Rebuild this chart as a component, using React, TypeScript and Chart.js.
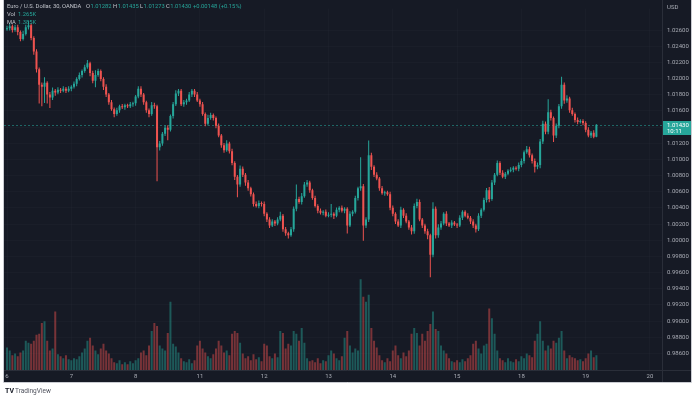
import React, { useEffect, useRef } from "react";
import { Chart, registerables } from "chart.js";

Chart.register(...registerables);

// ---- data (EUR/USD, OANDA) ----
const dayLabels = ["6", "7", "8", "11", "12", "13", "14", "15", "18", "19", "20"];
const priceTicks = [
  0.986, 0.988, 0.99, 0.992, 0.994, 0.996, 0.998, 1.0, 1.002, 1.004, 1.006, 1.008,
  1.01, 1.012, 1.014, 1.016, 1.018, 1.02, 1.022, 1.024, 1.026,
];
const candlesPerDay = 24;
const firstOpen = 1.02612;

const closes = [
  // 6
  1.02624, 1.02648, 1.026, 1.02636, 1.02576, 1.02491, 1.02552, 1.02636, 1.02661, 1.02503, 1.02334, 1.02117,
  1.01923, 1.01899, 1.01948, 1.01803, 1.01766, 1.01851, 1.01827, 1.01863, 1.01851, 1.01875, 1.01851, 1.01875,
  // 7
  1.01899, 1.01935, 1.01996, 1.02044, 1.02093, 1.02141, 1.02189, 1.02068, 1.01972, 1.02044, 1.02093, 1.01996,
  1.01899, 1.01803, 1.01706, 1.01621, 1.01561, 1.01609, 1.01657, 1.01645, 1.0167, 1.01657, 1.01682, 1.01694,
  // 8
  1.01778, 1.01875, 1.01803, 1.01706, 1.01609, 1.01561, 1.0167, 1.01657, 1.0115, 1.01198, 1.01319, 1.01392,
  1.01367, 1.01537, 1.01682, 1.01815, 1.01851, 1.01682, 1.01706, 1.0173, 1.01803, 1.01851, 1.01803, 1.0173,
  // 11
  1.01682, 1.01561, 1.0144, 1.01512, 1.01549, 1.01512, 1.01416, 1.01295, 1.01174, 1.01114, 1.01198, 1.01102,
  1.00957, 1.00787, 1.00691, 1.00884, 1.00812, 1.00715, 1.00642, 1.0057, 1.00449, 1.00425, 1.00461, 1.00449,
  // 12
  1.00328, 1.00256, 1.00183, 1.00231, 1.00207, 1.00256, 1.00304, 1.00135, 1.00086, 1.00062, 1.00135, 1.00389,
  1.00509, 1.00473, 1.00546, 1.00691, 1.00715, 1.00618, 1.00522, 1.00425, 1.00364, 1.0034, 1.00352, 1.00304,
  // 13
  1.00316, 1.00328, 1.00304, 1.00376, 1.00401, 1.00364, 1.00389, 1.00183, 1.00328, 1.00352, 1.00522, 1.00642,
  1.00667, 1.00183, 1.00256, 1.01053, 1.00908, 1.00812, 1.00763, 1.00642, 1.00582, 1.00594, 1.0057, 1.00401,
  // 14
  1.00328, 1.00231, 1.00183, 1.00376, 1.00304, 1.00231, 1.00159, 1.00111, 1.00425, 1.00473, 1.00256, 1.00183,
  1.00111, 1.00062, 0.99821, 1.00389, 1.00062, 1.00159, 1.00207, 1.00328, 1.00207, 1.00183, 1.00219, 1.00195,
  // 15
  1.00183, 1.0028, 1.00352, 1.00304, 1.0028, 1.00231, 1.00183, 1.00135, 1.00304, 1.00376, 1.00497, 1.00618,
  1.00509, 1.00715, 1.00812, 1.00957, 1.00836, 1.00787, 1.00824, 1.0086, 1.00872, 1.00896, 1.00884, 1.00932,
  // 18
  1.00981, 1.0109, 1.01126, 1.01053, 1.00981, 1.00908, 1.00932, 1.01222, 1.0144, 1.01343, 1.01585, 1.01512,
  1.01295, 1.01416, 1.01657, 1.01923, 1.0173, 1.01754, 1.01609, 1.01561, 1.01488, 1.01464, 1.01476, 1.01452,
  // 19
  1.01367, 1.01295, 1.01331, 1.01282, 1.0143,
];

// wick lengths in pips
const upperWicks = [
  3, 4, 2, 3, 3, 2, 4, 3, 5, 2, 2, 3, 2, 3, 7, 2, 3, 4, 2, 3, 2, 3, 2, 3,
  2, 3, 2, 3, 2, 3, 4, 2, 3, 6, 3, 2, 2, 3, 2, 3, 2, 3, 2, 3, 2, 2, 3, 2,
  2, 3, 3, 2, 2, 2, 4, 3, 2, 3, 2, 3, 3, 2, 3, 4, 2, 2, 3, 2, 3, 2, 2, 3,
  2, 3, 2, 4, 3, 2, 2, 3, 2, 3, 4, 2, 3, 2, 2, 4, 3, 2, 3, 2, 2, 3, 3, 2,
  3, 2, 3, 3, 2, 3, 5, 2, 3, 2, 3, 3, 18, 3, 4, 3, 3, 2, 2, 3, 2, 3, 2, 3,
  3, 12, 2, 3, 2, 3, 2, 2, 3, 2, 3, 2, 36, 3, 3, 18, 3, 2, 3, 2, 3, 2, 2, 3,
  3, 2, 3, 4, 2, 3, 2, 3, 3, 4, 3, 2, 2, 3, 2, 8, 3, 4, 3, 2, 3, 2, 3, 2,
  2, 3, 2, 2, 3, 2, 3, 2, 3, 2, 3, 3, 4, 3, 2, 3, 2, 3, 2, 2, 3, 2, 2, 3,
  3, 2, 4, 3, 2, 3, 3, 3, 4, 3, 16, 3, 2, 3, 3, 10, 3, 4, 2, 3, 2, 3, 2, 2,
  2, 3, 2, 3, 0.5,
];
const lowerWicks = [
  2, 3, 3, 2, 4, 3, 2, 2, 3, 3, 4, 4, 23, 24, 20, 11, 13, 3, 4, 2, 3, 2, 3, 2,
  3, 2, 3, 2, 3, 2, 2, 4, 3, 8, 2, 3, 4, 3, 3, 2, 4, 2, 3, 2, 3, 2, 2, 3,
  3, 2, 3, 3, 3, 4, 2, 3, 42, 4, 3, 3, 13, 2, 3, 2, 3, 2, 3, 3, 2, 3, 3, 2,
  3, 2, 3, 2, 2, 3, 3, 2, 3, 3, 2, 3, 3, 4, 16, 3, 3, 4, 3, 3, 3, 2, 3, 3,
  3, 3, 3, 2, 3, 2, 2, 3, 3, 4, 2, 3, 3, 2, 3, 2, 3, 3, 2, 2, 3, 2, 3, 2,
  2, 3, 4, 2, 3, 2, 3, 10, 2, 3, 2, 3, 3, 19, 3, 3, 4, 3, 2, 3, 2, 3, 2, 3,
  3, 3, 2, 3, 3, 2, 3, 4, 3, 3, 2, 3, 3, 5, 28, 3, 4, 3, 3, 2, 3, 2, 3, 2,
  3, 2, 3, 2, 2, 3, 3, 4, 2, 3, 2, 3, 4, 2, 3, 2, 3, 2, 3, 2, 2, 3, 2, 3,
  3, 3, 2, 3, 3, 7, 3, 4, 3, 3, 3, 3, 8, 3, 3, 3, 4, 3, 3, 2, 3, 3, 2, 3,
  3, 2, 3, 2, 0.9,
];

const volumes = [
  23, 20, 15, 17, 14, 18, 20, 30, 28, 27, 30, 36, 37, 48, 50, 30, 20, 22, 60, 16, 14, 12, 15, 11,
  10, 12, 11, 14, 18, 22, 30, 33, 25, 20, 16, 22, 27, 20, 17, 12, 8, 7, 10, 6, 8, 6, 9, 7,
  10, 12, 18, 20, 15, 25, 40, 48, 45, 25, 22, 20, 38, 70, 27, 24, 18, 12, 9, 8, 11, 7, 10, 25,
  30, 22, 18, 14, 12, 16, 22, 30, 25, 18, 20, 15, 37, 40, 38, 28, 17, 12, 14, 10, 16, 11, 13, 9,
  27, 25, 14, 12, 17, 13, 40, 38, 22, 27, 25, 40, 37, 30, 43, 28, 12, 9, 10, 8, 12, 7, 10, 9,
  15, 20, 17, 12, 10, 14, 33, 40, 25, 18, 22, 20, 93, 75, 70, 77, 43, 30, 23, 15, 10, 8, 12, 9,
  20, 25, 15, 12, 18, 14, 20, 37, 43, 38, 25, 37, 30, 40, 47, 60, 42, 40, 25, 20, 17, 12, 9, 8,
  10, 8, 11, 9, 12, 15, 27, 30, 22, 17, 25, 27, 63, 53, 37, 20, 12, 10, 8, 12, 9, 8, 11, 9,
  14, 12, 17, 15, 13, 30, 37, 50, 30, 20, 25, 22, 30, 28, 33, 40, 20, 12, 15, 13, 12, 10, 11, 9,
  12, 17, 20, 13, 15,
];

const titleText = "Euro / U.S. Dollar, 30, OANDA";
const ohlcLabels = ["O", "H", "L", "C"];
const ohlcValues = ["1.01282", "1.01435", "1.01273", "1.01430"];
const changeText = "+0.00148 (+0.15%)";
const volLegend = ["Vol", "1.265K"];
const maLegend = ["MA", "1.385K"];
const lastPrice = 1.0143;
const countdown = "10:11";

// ---- styles ----
const PIP = 0.0001;
const UP = "#26a69a";
const DOWN = "#ef5350";
const UP_VOL = "rgba(38,166,154,0.45)";
const DOWN_VOL = "rgba(239,83,80,0.45)";
const BG = "#161a25";
const GRID = "rgba(42,46,57,0.22)";
const TEXT = "#a9acb5";
const HEAD = "#c2c5cc";
const FONT = "Roboto, 'Noto Sans', sans-serif";

export default function App() {
  const ref = useRef<HTMLCanvasElement | null>(null);

  useEffect(() => {
    const canvas = ref.current;
    if (!canvas) return;

    const opens = closes.map((c, i) => (i === 0 ? firstOpen : closes[i - 1]));
    const highs = closes.map((c, i) => Math.max(opens[i], c) + upperWicks[i] * PIP);
    const lows = closes.map((c, i) => Math.min(opens[i], c) - lowerWicks[i] * PIP);
    const xs = closes.map((_, i) => i / candlesPerDay);
    const isUp = closes.map((c, i) => c >= opens[i]);
    const colors = isUp.map((u) => (u ? UP : DOWN));
    const volColors = isUp.map((u) => (u ? UP_VOL : DOWN_VOL));

    const framePlugin = {
      id: "frame",
      beforeDraw(chart: any) {
        const ctx = chart.ctx;
        ctx.save();
        ctx.fillStyle = "#ffffff";
        ctx.fillRect(0, 0, chart.width, chart.height);
        ctx.fillStyle = BG;
        ctx.fillRect(4, 0, 687, 382);
        ctx.restore();
      },
      beforeDatasetsDraw(chart: any) {
        const ctx = chart.ctx;
        const y = Math.round(chart.scales.y.getPixelForValue(lastPrice)) + 0.5;
        ctx.save();
        ctx.strokeStyle = "rgba(38,166,154,0.55)";
        ctx.lineWidth = 1;
        ctx.setLineDash([2, 2]);
        ctx.beginPath();
        ctx.moveTo(chart.chartArea.left, y);
        ctx.lineTo(chart.chartArea.right, y);
        ctx.stroke();
        ctx.restore();
      },
      afterDraw(chart: any) {
        const ctx = chart.ctx;
        const area = chart.chartArea;
        ctx.save();
        // separators
        ctx.strokeStyle = "#2a2e39";
        ctx.lineWidth = 1;
        ctx.beginPath();
        ctx.moveTo(area.right + 0.5, 0);
        ctx.lineTo(area.right + 0.5, 382);
        ctx.moveTo(4, area.bottom + 0.5);
        ctx.lineTo(691, area.bottom + 0.5);
        ctx.stroke();
        // outer frame
        ctx.strokeStyle = "#c9cbd1";
        ctx.beginPath();
        ctx.moveTo(3.5, 0);
        ctx.lineTo(3.5, 382.5);
        ctx.lineTo(691.5, 382.5);
        ctx.lineTo(691.5, 0);
        ctx.stroke();

        // price label box
        const py = chart.scales.y.getPixelForValue(lastPrice);
        ctx.fillStyle = UP;
        ctx.fillRect(area.right + 1, Math.round(py) - 4, 28, 14);
        ctx.fillStyle = "#ffffff";
        ctx.font = `6px ${FONT}`;
        ctx.textBaseline = "middle";
        ctx.textAlign = "left";
        ctx.fillText(lastPrice.toFixed(5), area.right + 5, Math.round(py) + 0.5);
        ctx.fillText(countdown, area.right + 5, Math.round(py) + 6.5);

        // USD
        ctx.fillStyle = TEXT;
        ctx.fillText("USD", area.right + 5, 7);

        // header
        ctx.font = `5.8px ${FONT}`;
        ctx.fillStyle = HEAD;
        ctx.fillText(titleText, 7, 7);
        const starts = [86, 113, 140, 166];
        ohlcLabels.forEach((lab, i) => {
          ctx.fillStyle = HEAD;
          ctx.fillText(lab, starts[i], 7);
          const w = ctx.measureText(lab).width;
          ctx.fillStyle = UP;
          ctx.fillText(ohlcValues[i], starts[i] + w + 0.5, 7);
        });
        ctx.fillStyle = UP;
        ctx.fillText(changeText, 193, 7);
        ctx.fillStyle = HEAD;
        ctx.fillText(volLegend[0], 7, 15);
        ctx.fillStyle = UP;
        ctx.fillText(volLegend[1], 18, 15);
        ctx.fillStyle = HEAD;
        ctx.fillText(maLegend[0], 7, 23);
        ctx.fillStyle = UP;
        ctx.fillText(maLegend[1], 18, 23);

        // logo
        ctx.fillStyle = "#131722";
        ctx.font = `bold 7px ${FONT}`;
        ctx.fillText("TV", 5, 391);
        ctx.fillStyle = "#50535e";
        ctx.font = `6.5px ${FONT}`;
        ctx.fillText("TradingView", 15, 391);
        ctx.restore();
      },
    };

    const chart = new Chart(canvas, {
      type: "bar",
      data: {
        datasets: [
          {
            label: "body",
            data: xs.map((x, i) => ({ x, y: [opens[i], closes[i]] })) as any,
            backgroundColor: colors,
            barThickness: 2,
            minBarLength: 1,
            grouped: false,
            inflateAmount: 0,
            yAxisID: "y",
            order: 1,
          } as any,
          {
            label: "wick",
            data: xs.map((x, i) => ({ x, y: [lows[i], highs[i]] })) as any,
            backgroundColor: colors,
            barThickness: 1,
            grouped: false,
            inflateAmount: 0,
            yAxisID: "y",
            order: 2,
          } as any,
          {
            label: "volume",
            data: xs.map((x, i) => ({ x, y: volumes[i] })) as any,
            backgroundColor: volColors,
            barThickness: 2,
            grouped: false,
            inflateAmount: 0,
            yAxisID: "yv",
            order: 3,
          } as any,
        ],
      },
      options: {
        animation: false,
        responsive: false,
        devicePixelRatio: 1,
        layout: { padding: { left: 4, right: 5, top: 0, bottom: 16 } },
        plugins: { legend: { display: false }, tooltip: { enabled: false } },
        scales: {
          x: {
            type: "linear",
            min: -0.047,
            max: 10.187,
            offset: false,
            grid: { color: GRID, drawTicks: false, offset: false },
            border: { display: false },
            ticks: {
              color: TEXT,
              font: { size: 6, family: FONT },
              padding: 3,
              maxRotation: 0,
              autoSkip: false,
              callback: (v: any) => dayLabels[Math.round(Number(v))] ?? "",
            },
            afterBuildTicks: (s: any) => {
              s.ticks = dayLabels.map((_, i) => ({ value: i }));
            },
            afterFit: (s: any) => {
              s.height = 12;
            },
          },
          y: {
            type: "linear",
            position: "right",
            min: 0.98395,
            max: 1.02866,
            beginAtZero: false,
            grid: { color: GRID, drawTicks: false },
            border: { display: false },
            ticks: {
              color: TEXT,
              font: { size: 6, family: FONT },
              padding: 5,
              callback: (v: any) => Number(v).toFixed(5),
            },
            afterBuildTicks: (s: any) => {
              s.ticks = priceTicks.map((v) => ({ value: v }));
            },
            afterFit: (s: any) => {
              s.width = 29;
            },
          },
          yv: {
            type: "linear",
            display: false,
            min: 0,
            max: 370,
          },
        },
      } as any,
      plugins: [framePlugin],
    });

    return () => chart.destroy();
  }, []);

  return (
    <div style={{ position: "absolute", left: 0, top: 0, width: 696, height: 398 }}>
      <canvas ref={ref} width={696} height={398} style={{ width: 696, height: 398 }} />
    </div>
  );
}
